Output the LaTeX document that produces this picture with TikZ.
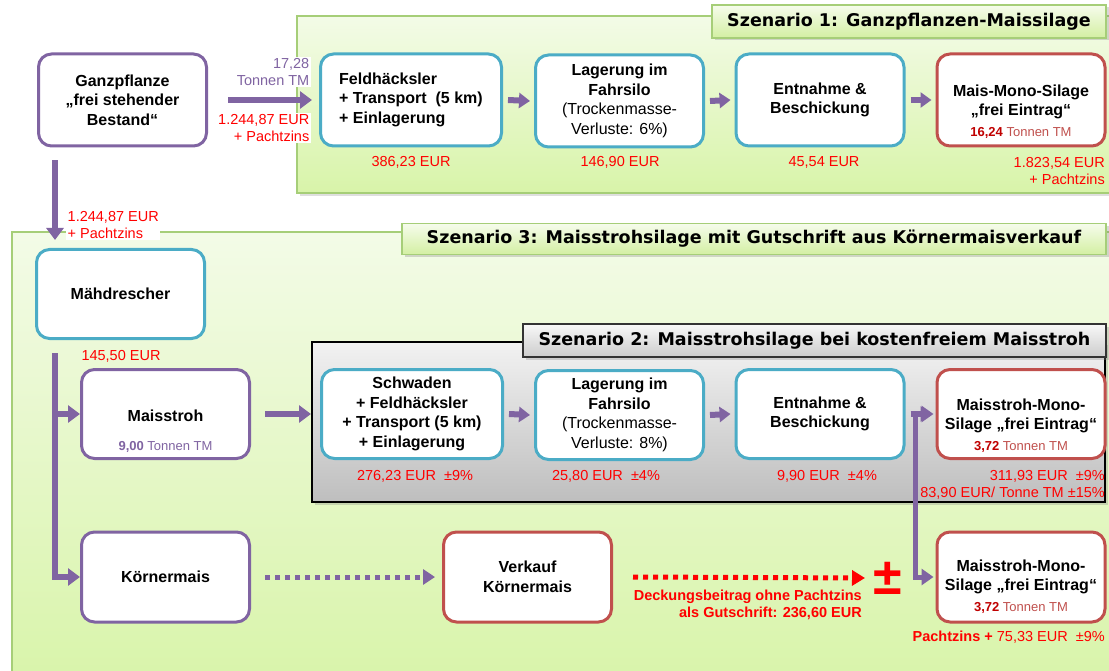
\documentclass[tikz,border=0pt]{standalone}
\usepackage{fontspec}
\setmainfont{Liberation Sans}
\newfontfamily\titlefont{DejaVu Sans}
\usetikzlibrary{arrows.meta,shadows,calc}

\definecolor{cpurple}{HTML}{8064A2}
\definecolor{cteal}{HTML}{4BACC6}
\definecolor{cboxred}{HTML}{C0504D}
\definecolor{ctxtred}{HTML}{FF0000}
\definecolor{cdarkred}{HTML}{C00000}
\definecolor{cgrtop}{HTML}{F3FBE7}
\definecolor{cgrbot}{HTML}{D8F4A9}
\definecolor{cgrline}{HTML}{A6CE78}
\definecolor{ctgtop}{HTML}{F6FCEC}
\definecolor{ctgbot}{HTML}{D3EFA2}
\definecolor{cgytop}{HTML}{F2F2F2}
\definecolor{cgybot}{HTML}{BEBEBE}
\definecolor{cgttop}{HTML}{F8F8F8}
\definecolor{cgtbot}{HTML}{CCCCCC}

\tikzset{
  box/.style={rectangle, rounded corners=13pt, line width=3pt, fill=white,
    minimum width=168pt, minimum height=90pt, inner sep=0pt, align=center,
    font=\fontsize{16}{19.5}\selectfont\bfseries},
  pbox/.style={box, draw=cpurple},
  tbox/.style={box, draw=cteal},
  rbox/.style={box, draw=cboxred},
  boxtxt/.style={align=center, inner sep=0pt, font=\fontsize{16}{19}\selectfont\bfseries},
  subtxt/.style={inner sep=0pt, font=\fontsize{13}{15}\selectfont},
  cost/.style={text=ctxtred, inner sep=1pt, font=\fontsize{14.5}{17}\selectfont},
  wlbl/.style={fill=white, inner sep=1.5pt, font=\fontsize{14.5}{17.5}\selectfont},
  arr/.style={draw=cpurple, line width=6pt, -{Triangle[length=12pt,width=17pt]}},
  sarr/.style={draw=cpurple, line width=6pt, -{Triangle[length=11pt,width=15pt]}},
  barr/.style={draw=cpurple, line width=5pt, {Triangle[length=12pt,width=16pt]}-{Triangle[length=12pt,width=16pt]}},
  pdot/.style={draw=cpurple, line width=5pt, dash pattern=on 5pt off 5pt, -{Triangle[length=12pt,width=15pt]}},
  rdot/.style={draw=ctxtred, line width=5pt, dash pattern=on 5pt off 5pt, -{Triangle[length=13pt,width=15pt]}},
  gframe/.style={draw=cgrline, line width=1.5pt, top color=cgrtop, bottom color=cgrbot,
    drop shadow={opacity=0.25, shadow xshift=3pt, shadow yshift=-3pt}},
  grayframe/.style={draw=black, line width=1.2pt, top color=cgytop, bottom color=cgybot,
    drop shadow={opacity=0.3, shadow xshift=3pt, shadow yshift=-3pt}},
  gtitle/.style={draw=cgrline, line width=1.5pt, top color=ctgtop, bottom color=ctgbot,
    inner sep=0pt, font=\titlefont\bfseries\fontsize{17.5}{20}\selectfont,
    drop shadow={opacity=0.3, shadow xshift=2.5pt, shadow yshift=-2.5pt}},
  graytitle/.style={draw=black!80, line width=1.2pt, top color=cgttop, bottom color=cgtbot,
    inner sep=0pt, font=\titlefont\bfseries\fontsize{17.5}{20}\selectfont,
    drop shadow={opacity=0.3, shadow xshift=2.5pt, shadow yshift=-2.5pt}},
}

\begin{document}
\begin{tikzpicture}[x=1pt,y=-1pt]
\useasboundingbox (0,0) rectangle (1109,671);
\fill[white] (0,0) rectangle (1109,671);

% scenario frames
\path[gframe] (12,232) rectangle (1118,690);
\path[gframe] (297,16) rectangle (1118,193);
\path[grayframe] (312,342) rectangle (1105,502);

% titles
\node[gtitle, minimum width=394pt, minimum height=33pt] (t1) at (909,21.5) {Szenario 1: Ganzpflanzen-Maissilage};
\node[gtitle, minimum width=704pt, minimum height=31pt] (t3) at (754,239) {Szenario 3: Maisstrohsilage mit Gutschrift aus Körnermaisverkauf};
\node[graytitle, minimum width=583pt, minimum height=33pt] (t2) at (814.5,340.5) {Szenario 2: Maisstrohsilage bei kostenfreiem Maisstroh};

% row 1
\node[pbox, minimum height=92pt] (gp) at (122.5,100) {Ganzpflanze\\„frei stehender\\Bestand“};
\node[tbox, minimum width=181pt, minimum height=92pt] (fh) at (411,100) {\begin{tabular}{@{}l@{}}Feldhäcksler\\+ Transport\ \ (5 km)\\+ Einlagerung\end{tabular}};
\node[tbox, minimum height=92pt] (lag1) at (619.5,101) {Lagerung im\\Fahrsilo\\{\mdseries (Trockenmasse-}\\{\mdseries Verluste: 6\%)}};
\node[tbox, minimum height=92pt] (ent1) at (820,100) {Entnahme \&\\Beschickung};
\node[rbox, minimum height=92pt] (mms1) at (1021,100) {};
\node[boxtxt] (mms1t) at ($(mms1)+(0,2)$) {Mais-Mono-Silage\\„frei Eintrag“};
\node[subtxt] (mms1s) at ($(mms1)+(0,33)$) {\textcolor{cdarkred}{\bfseries 16,24} \textcolor{cboxred}{Tonnen TM}};

% Mähdrescher
\node[tbox, minimum height=89pt] (md) at (120.5,294) {Mähdrescher};

% row 2
\node[pbox, minimum height=89pt] (ms) at (165.5,414) {};
\node[boxtxt] (mst) at ($(ms)+(0,2)$) {Maisstroh};
\node[subtxt] (mss) at ($(ms)+(0,33)$) {\textcolor{cpurple}{\bfseries 9,00} \textcolor{cpurple}{Tonnen TM}};
\node[tbox, minimum width=181pt, minimum height=89pt] (sw) at (412,414) {Schwaden\\+ Feldhäcksler\\+ Transport (5 km)\\+ Einlagerung};
\node[tbox, minimum height=89pt] (lag2) at (619.5,415) {Lagerung im\\Fahrsilo\\{\mdseries (Trockenmasse-}\\{\mdseries Verluste: 8\%)}};
\node[tbox, minimum height=89pt] (ent2) at (820,414) {Entnahme \&\\Beschickung};
\node[rbox, minimum height=89pt] (mms2) at (1021,414) {};
\node[boxtxt] (mms2t) at ($(mms2)+(0,2)$) {Maisstroh-Mono-\\Silage „frei Eintrag“};
\node[subtxt] (mms2s) at ($(mms2)+(0,33)$) {\textcolor{cdarkred}{\bfseries 3,72} \textcolor{cboxred}{Tonnen TM}};

% row 3
\node[pbox] (km) at (165.5,577) {Körnermais};
\node[rbox] (vk) at (527.5,577) {Verkauf\\Körnermais};
\node[rbox] (mms3) at (1021,577) {};
\node[boxtxt] (mms3t) at ($(mms3)+(0,0)$) {Maisstroh-Mono-\\Silage „frei Eintrag“};
\node[subtxt] (mms3s) at ($(mms3)+(0,31)$) {\textcolor{cdarkred}{\bfseries 3,72} \textcolor{cboxred}{Tonnen TM}};
\node[text=ctxtred, inner sep=0pt, font=\fontsize{52}{52}\selectfont\bfseries] (pm) at (888,578) {±};

% costs
\node[cost] (c1) at (411,162) {386,23 EUR};
\node[cost] (c2) at (620,162) {146,90 EUR};
\node[cost] (c3) at (824,162) {45,54 EUR};
\node[cost, anchor=east, align=right] (c4) at (1106,171) {1.823,54 EUR\\+ Pachtzins};
\node[cost] (c5) at (121,356) {145,50 EUR};
\node[cost] (c6) at (415,476) {276,23 EUR\ \ ±9\%};
\node[cost] (c7) at (606,476) {25,80 EUR\ \ ±4\%};
\node[cost] (c8) at (827,476) {9,90 EUR\ \ ±4\%};
\node[cost, anchor=east, align=right] (c9) at (1106,484.5) {311,93 EUR\ \ ±9\%\\83,90 EUR/ Tonne TM ±15\%};
\node[cost, anchor=east, align=right, font=\fontsize{14.5}{17.5}\selectfont\bfseries] (db) at (863,605) {Deckungsbeitrag ohne Pachtzins\\als Gutschrift: 236,60 EUR};
\node[cost, anchor=east] (pz) at (1106,637) {{\bfseries Pachtzins +} 75,33 EUR\ \ ±9\%};

% labels with white background
\node[wlbl, text=cpurple, anchor=east, align=right] (tm1) at (311,72) {17,28\\Tonnen TM};
\node[wlbl, text=ctxtred, anchor=east, align=right] (eur1) at (311,128) {1.244,87 EUR\\+ Pachtzins};
\node[wlbl, text=ctxtred, anchor=west, align=left] (eur2) at (66,225) {1.244,87 EUR\\+ Pachtzins};

% connectors
\draw[arr] ([xshift=20pt]gp.east) -- ([xshift=-7pt]fh.west);
\draw[sarr] ([xshift=5pt]fh.east) -- ([xshift=-4pt]lag1.west);
\draw[sarr] ([xshift=5pt]lag1.east) -- ([xshift=-4pt]ent1.west);
\draw[sarr] ([xshift=5pt]ent1.east) -- ([xshift=-4pt]mms1.west);
\draw[arr] ($(gp.south west)+(18,13)$) -- ($(md.north west)+(20,-8)$);
\coordinate (mdout) at ($(md.south west)+(20,13)$);
\coordinate (brms) at (mdout |- ms.west);
\draw[arr] (mdout) |- (km.west);
\draw[arr] ([xshift=-3pt]brms) -- (ms.west);
\draw[arr] ([xshift=14pt]ms.east) -- ([xshift=-9pt]sw.west);
\draw[sarr] ([xshift=5pt]sw.east) -- ([xshift=-4pt]lag2.west);
\draw[sarr] ([xshift=5pt]lag2.east) -- ([xshift=-4pt]ent2.west);
\draw[sarr] ([xshift=5pt]ent2.east) -- ([xshift=-4pt]mms2.west);
\draw[barr] ([xshift=-2pt]mms2.west) -- ++(-18,0) |- ([xshift=-2pt]mms3.west);
\draw[pdot] ([xshift=14pt]km.east) -- ([xshift=-7pt]vk.west);
\draw[rdot] ([xshift=20pt]vk.east) -- ($(pm.center)+(-23,0)$);
\end{tikzpicture}
\end{document}
